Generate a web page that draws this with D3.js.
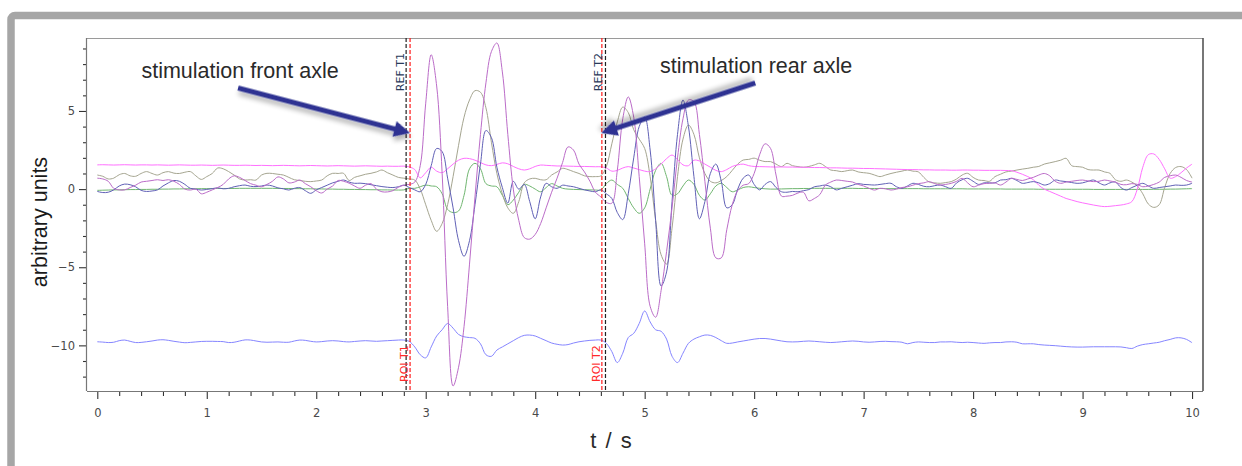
<!DOCTYPE html>
<html><head><meta charset="utf-8">
<script src="https://cdn.jsdelivr.net/npm/d3@7"></script>
<style>html,body{margin:0;padding:0;background:#fff;overflow:hidden}</style>
</head><body><svg id="chart" width="1242" height="466"></svg>
<script>
// sampling interval of all series (s)
const timeStep = 0.05;

// bright pink channel
const pink = [
 1.55,1.56,1.55,1.54,1.55,1.56,1.55,1.54,1.55,1.55,
 1.54,1.55,1.54,1.53,1.54,1.55,1.54,1.53,1.53,1.54,
 1.53,1.52,1.53,1.54,1.53,1.52,1.52,1.53,1.52,1.51,
 1.52,1.51,1.50,1.51,1.52,1.51,1.50,1.49,1.50,1.51,
 1.50,1.49,1.48,1.49,1.50,1.49,1.48,1.47,1.48,1.49,
 1.48,1.47,1.46,1.47,1.46,1.46,1.47,1.42,1.25,0.72,
 1.05,1.40,1.15,1.05,1.30,1.60,1.85,1.97,1.95,1.85,
 1.70,1.55,1.50,1.58,1.68,1.62,1.45,1.30,1.22,1.30,
 1.45,1.54,1.52,1.50,1.48,1.48,1.47,1.46,1.45,1.45,
 1.44,1.43,1.43,1.35,1.15,1.20,1.35,1.44,1.35,1.25,
 1.15,1.12,1.30,1.60,1.95,2.18,1.90,1.55,1.50,1.85,
 1.80,1.60,1.40,1.20,1.12,1.25,1.45,1.55,1.60,1.50,
 1.45,1.44,1.43,1.42,1.41,1.42,1.41,1.41,1.40,1.40,
 1.39,1.38,1.38,1.37,1.36,1.36,1.35,1.34,1.34,1.33,
 1.32,1.32,1.31,1.30,1.29,1.28,1.27,1.26,1.25,1.25,
 1.24,1.23,1.23,1.22,1.22,1.22,1.21,1.21,1.22,1.22,
 1.21,1.21,1.20,1.20,1.20,1.20,1.19,1.18,1.08,0.95,
 0.80,0.60,0.25,0.00,-0.15,-0.30,-0.45,-0.60,-0.70,-0.80,
 -0.88,-0.95,-1.02,-1.08,-1.12,-1.10,-1.06,-1.02,-0.95,-0.80,
 0.00,1.40,2.20,2.25,1.90,1.30,0.70,0.80,1.05,1.35,
 1.60];

// violet channel
const violet = [
 0.70,0.65,0.50,0.05,-0.05,-0.05,0.10,0.25,0.45,0.50,
 0.55,0.60,0.55,0.60,0.50,0.30,0.00,-0.06,0.00,-0.30,
 -0.20,-0.05,0.10,0.30,0.65,0.85,0.75,0.55,0.35,0.25,
 0.15,0.30,0.50,0.78,0.65,0.40,0.45,0.58,0.35,0.15,
 -0.10,-0.25,0.00,0.20,0.55,0.50,0.38,0.20,0.05,0.25,
 0.35,0.00,-0.17,-0.18,-0.10,0.12,0.25,0.30,0.45,1.50,
 5.50,8.60,6.60,1.00,-7.50,-12.60,-11.40,-8.80,-4.80,-0.50,
 3.50,6.80,8.80,9.35,7.50,3.50,0.00,-2.00,-3.10,-3.20,
 -2.90,-2.20,-1.20,-0.20,0.70,1.70,2.70,2.50,1.60,1.10,
 0.50,-0.20,-0.50,-0.85,-0.90,1.20,4.50,5.90,4.60,0.80,
 -3.50,-7.50,-8.20,-6.50,-4.00,-1.20,2.00,4.50,5.70,5.60,
 3.50,0.50,-2.50,-4.40,-4.40,-2.60,-1.00,-0.10,0.25,0.35,
 1.00,2.20,2.90,2.60,0.90,-0.45,-0.45,-0.40,-0.25,-0.20,
 -0.75,-0.60,-0.35,0.25,0.45,0.58,0.55,0.50,0.45,0.30,
 0.20,0.05,-0.06,0.05,0.02,-0.06,0.00,0.10,0.15,0.25,
 0.35,0.40,0.48,0.35,0.26,0.30,0.37,0.50,0.69,0.40,
 0.15,0.25,0.35,0.37,0.40,0.26,0.45,0.69,0.62,0.55,
 0.65,0.75,0.90,1.00,0.85,0.50,0.37,0.45,0.50,0.55,
 0.58,0.52,0.48,0.50,0.58,0.52,0.45,0.30,0.28,0.35,
 0.30,0.15,0.20,0.30,0.45,0.75,0.85,0.90,0.75,0.55,
 0.45];

// dark blue channel
const navy = [
 -0.15,-0.22,-0.20,-0.05,0.20,0.32,0.28,0.15,-0.08,-0.15,
 -0.12,-0.05,0.20,0.40,0.55,0.50,0.30,0.05,0.00,-0.06,
 -0.02,0.03,0.08,0.02,0.05,0.15,0.22,0.26,0.18,0.16,
 0.20,0.26,0.20,0.08,0.02,-0.06,0.05,0.10,-0.10,-0.27,
 -0.05,0.10,0.25,0.40,0.50,0.58,0.45,0.37,0.38,0.35,
 0.28,0.22,0.16,0.12,0.10,0.15,0.25,0.10,-0.05,-0.17,
 0.30,1.50,2.60,2.40,0.70,-1.20,-3.30,-4.30,-3.30,-1.00,
 1.60,3.75,3.30,1.40,0.10,-0.90,0.50,0.00,0.30,-0.80,
 -1.90,-0.50,0.37,0.15,0.05,0.25,0.20,0.15,0.05,-0.05,
 -0.12,-0.17,-0.05,-0.30,-0.60,-1.50,-1.95,-0.30,2.00,4.00,
 4.60,2.50,-2.00,-6.20,-5.30,-0.80,3.50,5.70,4.00,0.80,
 -1.90,-0.80,1.00,1.60,0.50,-1.20,-1.00,0.00,0.70,0.90,
 0.30,-0.05,0.30,0.48,0.10,-0.17,-0.20,-0.15,-0.17,-0.10,
 -0.03,0.15,0.20,0.26,0.15,-0.05,0.05,0.15,0.25,0.35,
 0.30,0.28,0.26,0.30,0.35,0.37,0.15,0.05,0.20,0.37,
 0.30,0.18,0.15,0.22,0.26,0.15,0.05,0.40,0.60,0.69,
 0.50,0.30,0.40,0.40,0.40,0.58,0.60,0.69,0.55,0.37,
 0.42,0.48,0.40,0.26,0.35,0.58,0.52,0.48,0.42,0.37,
 0.40,0.50,0.58,0.40,0.26,0.40,0.45,0.10,-0.06,0.10,
 0.25,0.37,0.20,0.05,0.10,0.15,0.20,0.26,0.24,0.26,
 0.37];

// olive / grey-green channel
const olive = [
 0.90,0.82,0.65,0.70,0.92,1.00,0.85,0.82,1.00,1.12,
 1.00,0.90,1.05,1.12,1.02,1.00,1.08,1.12,0.85,0.62,
 0.80,1.00,1.35,1.30,1.12,0.90,0.65,0.58,0.60,0.58,
 0.90,1.01,1.00,0.95,0.90,0.75,0.60,0.55,0.50,0.48,
 0.52,0.58,0.85,1.01,1.00,1.01,0.55,0.75,0.85,0.95,
 1.01,1.10,1.22,1.05,0.90,0.75,0.70,0.65,0.58,0.00,
 -1.00,-2.00,-2.70,-2.20,-1.00,0.80,2.80,4.60,5.70,6.30,
 6.20,5.20,3.00,1.00,-0.30,-1.20,-1.55,-0.80,0.40,0.65,
 0.69,0.60,0.60,0.90,1.10,1.33,1.25,1.12,1.00,0.85,
 0.80,0.80,0.85,1.44,2.90,4.30,5.25,4.90,3.80,3.20,
 2.60,0.80,-2.00,-4.20,-4.80,-2.50,0.80,3.20,4.10,3.50,
 2.00,1.00,0.50,0.40,0.55,0.80,1.20,1.60,1.86,1.90,
 1.98,1.85,1.76,1.76,1.60,1.44,1.65,1.50,1.44,1.40,
 1.45,1.55,1.65,1.45,1.22,1.18,1.12,1.18,1.22,1.10,
 1.05,1.01,0.90,0.80,0.90,1.00,1.08,1.15,1.22,1.15,
 1.10,0.75,0.45,0.40,0.37,0.42,0.48,0.65,0.90,1.01,
 0.75,0.58,0.55,0.50,0.80,0.95,1.10,1.15,1.22,1.28,
 1.33,1.40,1.45,1.60,1.68,1.76,1.85,1.97,1.50,1.44,
 1.40,1.25,1.22,1.22,1.10,1.01,0.60,0.50,0.58,0.45,
 0.20,-0.30,-0.95,-1.17,-1.00,0.10,1.00,1.38,1.44,1.25,
 0.70];

// green channel
const green = [
 -0.08,-0.07,-0.06,-0.05,-0.05,-0.04,-0.03,-0.03,-0.02,-0.02,
 -0.01,-0.01,0.00,0.00,0.01,0.01,0.02,0.02,0.02,0.03,
 0.03,0.03,0.04,0.04,0.04,0.04,0.05,0.05,0.05,0.05,
 0.05,0.05,0.05,0.04,0.04,0.04,0.03,0.03,0.02,0.02,
 0.01,0.01,0.00,0.00,-0.01,-0.01,-0.02,-0.02,-0.03,-0.03,
 -0.04,-0.04,-0.05,-0.05,-0.06,-0.06,-0.05,0.05,0.05,0.15,
 0.26,0.20,0.15,-0.30,-1.30,-1.50,-1.40,-0.40,1.30,1.65,
 1.30,0.35,0.20,0.15,-0.40,-1.00,-0.70,-0.20,0.30,0.20,
 0.00,-0.17,0.10,0.35,0.20,0.05,0.00,-0.02,-0.03,-0.04,
 -0.05,-0.06,-0.05,0.35,0.58,0.30,0.05,-0.60,-1.20,-1.55,
 -1.20,0.00,1.20,1.65,0.80,-0.40,-0.30,0.20,0.58,0.30,
 -0.40,-0.70,-0.30,0.20,0.37,0.10,-0.17,-0.05,0.10,0.15,
 0.10,0.05,0.02,0.00,0.00,0.01,0.02,0.03,0.03,0.04,
 0.04,0.05,0.05,0.05,0.05,0.05,0.05,0.05,0.05,0.04,
 0.04,0.04,0.04,0.04,0.03,0.03,0.03,0.03,0.03,0.03,
 0.03,0.02,0.02,0.02,0.02,0.02,0.02,0.02,0.02,0.01,
 0.01,0.01,0.01,0.01,0.01,0.01,0.00,0.00,0.00,0.00,
 0.00,0.00,-0.01,-0.01,-0.01,-0.01,-0.01,-0.01,-0.01,-0.01,
 -0.01,-0.01,-0.02,-0.02,-0.02,-0.02,-0.02,-0.02,-0.02,-0.02,
 -0.02,-0.02,-0.02,-0.01,-0.01,-0.01,0.00,0.00,0.01,0.02,
 0.03];

// light blue channel (offset around -10)
const lightBlue = [
 -9.77,-9.79,-9.82,-9.80,-9.70,-9.66,-9.74,-9.82,-9.81,-9.77,
 -9.72,-9.66,-9.64,-9.68,-9.74,-9.79,-9.83,-9.81,-9.78,-9.75,
 -9.74,-9.74,-9.75,-9.76,-9.82,-9.80,-9.72,-9.65,-9.66,-9.72,
 -9.78,-9.80,-9.79,-9.78,-9.80,-9.80,-9.72,-9.66,-9.68,-9.74,
 -9.78,-9.76,-9.72,-9.70,-9.72,-9.76,-9.78,-9.75,-9.72,-9.70,
 -9.72,-9.74,-9.72,-9.70,-9.68,-9.66,-9.66,-9.75,-10.10,-10.60,
 -10.80,-10.10,-9.40,-9.00,-8.60,-8.90,-9.30,-9.45,-9.50,-9.55,
 -9.90,-10.60,-10.70,-10.30,-10.10,-9.90,-9.70,-9.50,-9.36,-9.34,
 -9.40,-9.55,-9.70,-9.85,-9.93,-9.98,-9.95,-9.85,-9.77,-9.72,
 -9.68,-9.66,-9.66,-9.87,-10.40,-11.10,-10.50,-9.50,-9.23,-8.60,
 -7.80,-8.50,-9.00,-9.10,-9.60,-10.70,-11.10,-10.50,-9.87,-9.60,
 -9.45,-9.34,-9.36,-9.50,-9.70,-9.87,-9.85,-9.78,-9.72,-9.66,
 -9.60,-9.56,-9.56,-9.60,-9.66,-9.72,-9.77,-9.78,-9.77,-9.74,
 -9.72,-9.74,-9.77,-9.80,-9.82,-9.80,-9.77,-9.74,-9.72,-9.74,
 -9.78,-9.80,-9.78,-9.75,-9.74,-9.76,-9.77,-9.80,-9.90,-9.82,
 -9.78,-9.80,-9.82,-9.82,-9.78,-9.78,-9.77,-9.80,-9.82,-9.80,
 -9.82,-9.85,-9.87,-9.84,-9.82,-9.82,-9.78,-9.77,-9.80,-9.90,
 -9.90,-9.90,-9.95,-9.98,-10.00,-10.02,-10.05,-10.08,-10.10,-10.11,
 -10.11,-10.10,-10.09,-10.09,-10.09,-10.09,-10.09,-10.10,-10.15,-10.20,
 -10.05,-9.95,-9.90,-9.85,-9.80,-9.70,-9.62,-9.52,-9.52,-9.62,
 -9.83];

const xTickValues = [0,1,2,3,4,5,6,7,8,9,10];
const yTickValues = [-10,-5,0,5];

// event markers (time in s)
const markerTimes = [2.821, 2.857, 4.609, 4.642];
const markerLabels = ["REF T1", "ROI T1", "ROI T2", "REF T2"];
const markerKinds = ["ref", "roi", "roi", "ref"];

// annotations: text anchor (t, value) and arrow from -> to (t, value)
const noteTexts = ["stimulation front axle", "stimulation rear axle"];
const noteAt = [[1.304, 7.11], [6.018, 7.43]];
const arrowFrom = [[1.286, 6.47], [6.01, 6.79]];
const arrowTo = [[2.857, 3.59], [4.603, 3.59]];

const series = [
  {values: lightBlue, color: "#8585ff"},
  {values: green, color: "#70b670"},
  {values: olive, color: "#a5a590"},
  {values: pink, color: "#ff70ff"},
  {values: navy, color: "#6060b6"},
  {values: violet, color: "#bb6cc8"}
];

const svg = d3.select("#chart");
const L = 87, R = 1203, T = 38, B = 391;
const x = d3.scaleLinear().domain([-0.094, 10.10]).range([L, R]);
const y = d3.scaleLinear().domain([-12.92, 9.67]).range([B, T]);

// outer gray panel border
svg.append("rect").attr("x", 11).attr("y", 15.5).attr("width", 1400).attr("height", 700)
  .attr("rx", 4).attr("fill", "#fff").attr("stroke", "#a6a6a6").attr("stroke-width", 7.5);

const defs = svg.append("defs");
defs.append("clipPath").attr("id", "plotclip").append("rect")
  .attr("x", L).attr("y", T).attr("width", R - L).attr("height", B - T);
const sh = defs.append("filter").attr("id", "shadow").attr("x", "-20%").attr("y", "-50%").attr("width", "140%").attr("height", "200%");
sh.append("feGaussianBlur").attr("in", "SourceAlpha").attr("stdDeviation", 2.5);
sh.append("feOffset").attr("dx", 2).attr("dy", 4).attr("result", "ob");
sh.append("feComponentTransfer").append("feFuncA").attr("type", "linear").attr("slope", 0.3);
const mg = sh.append("feMerge");
mg.append("feMergeNode");
mg.append("feMergeNode").attr("in", "SourceGraphic");

// plot frame
svg.append("line").attr("x1", L).attr("x2", R).attr("y1", T + 0.5).attr("y2", T + 0.5).attr("stroke", "#9a9a9a");
svg.append("line").attr("x1", R).attr("x2", R).attr("y1", T).attr("y2", B).attr("stroke", "#555").attr("stroke-width", 1.6);

// axes
const xMinor = d3.range(0, 10.01, 0.2).filter(v => Math.abs(v - Math.round(v)) > 1e-6);
const yMinor = d3.range(-12, 10, 1).filter(v => v % 5 !== 0);
const fontTick = "'DejaVu Sans', Verdana, sans-serif";

const gx = svg.append("g").attr("transform", `translate(0,${B})`);
gx.append("g").call(d3.axisBottom(x).tickValues(xMinor).tickSize(5).tickFormat(""))
  .call(g => g.select(".domain").remove());
gx.append("g").call(d3.axisBottom(x).tickValues(xTickValues).tickSize(8).tickPadding(10).tickFormat(d3.format("d")))
  .call(g => g.select(".domain").remove());
gx.append("line").attr("x1", L).attr("x2", R).attr("y1", 0.5).attr("y2", 0.5).attr("stroke", "#777").attr("stroke-width", 1.2);

const gy = svg.append("g").attr("transform", `translate(${L},0)`);
gy.append("g").call(d3.axisLeft(y).tickValues(yMinor).tickSize(4).tickFormat(""))
  .call(g => g.select(".domain").remove());
gy.append("g").call(d3.axisLeft(y).tickValues(yTickValues).tickSize(8).tickPadding(4).tickFormat(d3.format("d")))
  .call(g => g.select(".domain").remove());
gy.append("line").attr("x1", -0.5).attr("x2", -0.5).attr("y1", T).attr("y2", B).attr("stroke", "#777").attr("stroke-width", 1.2);

svg.selectAll(".tick line").attr("stroke", "#333").attr("stroke-width", 1.1);
svg.selectAll(".tick text").attr("fill", "#4a4a4a").attr("font-size", 11.5).attr("font-family", fontTick);

// data lines
const time = pink.map((_, i) => i * timeStep);
const line = d3.line().x((d, i) => x(time[i])).y(d => y(d)).curve(d3.curveCatmullRom.alpha(0.5));
const gLines = svg.append("g").attr("clip-path", "url(#plotclip)");
gLines.selectAll("path").data(series).join("path")
  .attr("d", s => line(s.values)).attr("fill", "none")
  .attr("stroke", s => s.color).attr("stroke-width", 1).attr("stroke-linejoin", "round");

// markers
const gm = svg.append("g");
markerTimes.forEach((t, i) => {
  const px = x(t);
  const isRef = markerKinds[i] === "ref";
  gm.append("line").attr("x1", px).attr("x2", px).attr("y1", T).attr("y2", B)
    .attr("stroke", isRef ? "#222" : "#ff1a1a").attr("stroke-width", 1.2)
    .attr("stroke-dasharray", "4,2");
  const ly = isRef ? 53 : 382;
  const off = (i === 3) ? 3.5 : 2;
  gm.append("text").attr("transform", `translate(${px - off},${ly}) rotate(-90)`)
    .attr("text-anchor", isRef ? "end" : "start")
    .attr("font-family", fontTick).attr("font-size", 11)
    .attr("fill", isRef ? "#2a3a5a" : "#ff2a2a").text(markerLabels[i]);
});

// annotations
const fontMain = "'Liberation Sans', Arial, sans-serif";
noteTexts.forEach((txt, i) => {
  svg.append("text").attr("x", x(noteAt[i][0])).attr("y", y(noteAt[i][1]))
    .attr("text-anchor", "middle").attr("font-family", fontMain).attr("font-size", 21.5)
    .attr("fill", "#2a2a2a").text(txt);
  const x0 = x(arrowFrom[i][0]), y0 = y(arrowFrom[i][1]);
  const x1 = x(arrowTo[i][0]), y1 = y(arrowTo[i][1]);
  const ang = Math.atan2(y1 - y0, x1 - x0);
  const len = Math.hypot(x1 - x0, y1 - y0);
  const headL = 16, headW = 8, shaftW = 2.6;
  const pts = [[0, -shaftW], [len - headL, -shaftW], [len - headL, -headW], [len, 0],
               [len - headL, headW], [len - headL, shaftW], [0, shaftW]];
  svg.append("polygon")
    .attr("points", pts.map(p => p.join(",")).join(" "))
    .attr("transform", `translate(${x0},${y0}) rotate(${ang * 180 / Math.PI})`)
    .attr("fill", "#2e3192").attr("filter", "url(#shadow)");
});

// axis titles
svg.append("text").attr("x", 611).attr("y", 448)
  .attr("text-anchor", "middle").attr("font-family", fontMain).attr("font-size", 22)
  .attr("word-spacing", 3).attr("fill", "#2a2a2a").text("t / s");
svg.append("text").attr("transform", "translate(47,222) rotate(-90)")
  .attr("text-anchor", "middle").attr("font-family", fontMain).attr("font-size", 21.5)
  .attr("fill", "#1a1a1a").text("arbitrary units");
</script></body></html>
